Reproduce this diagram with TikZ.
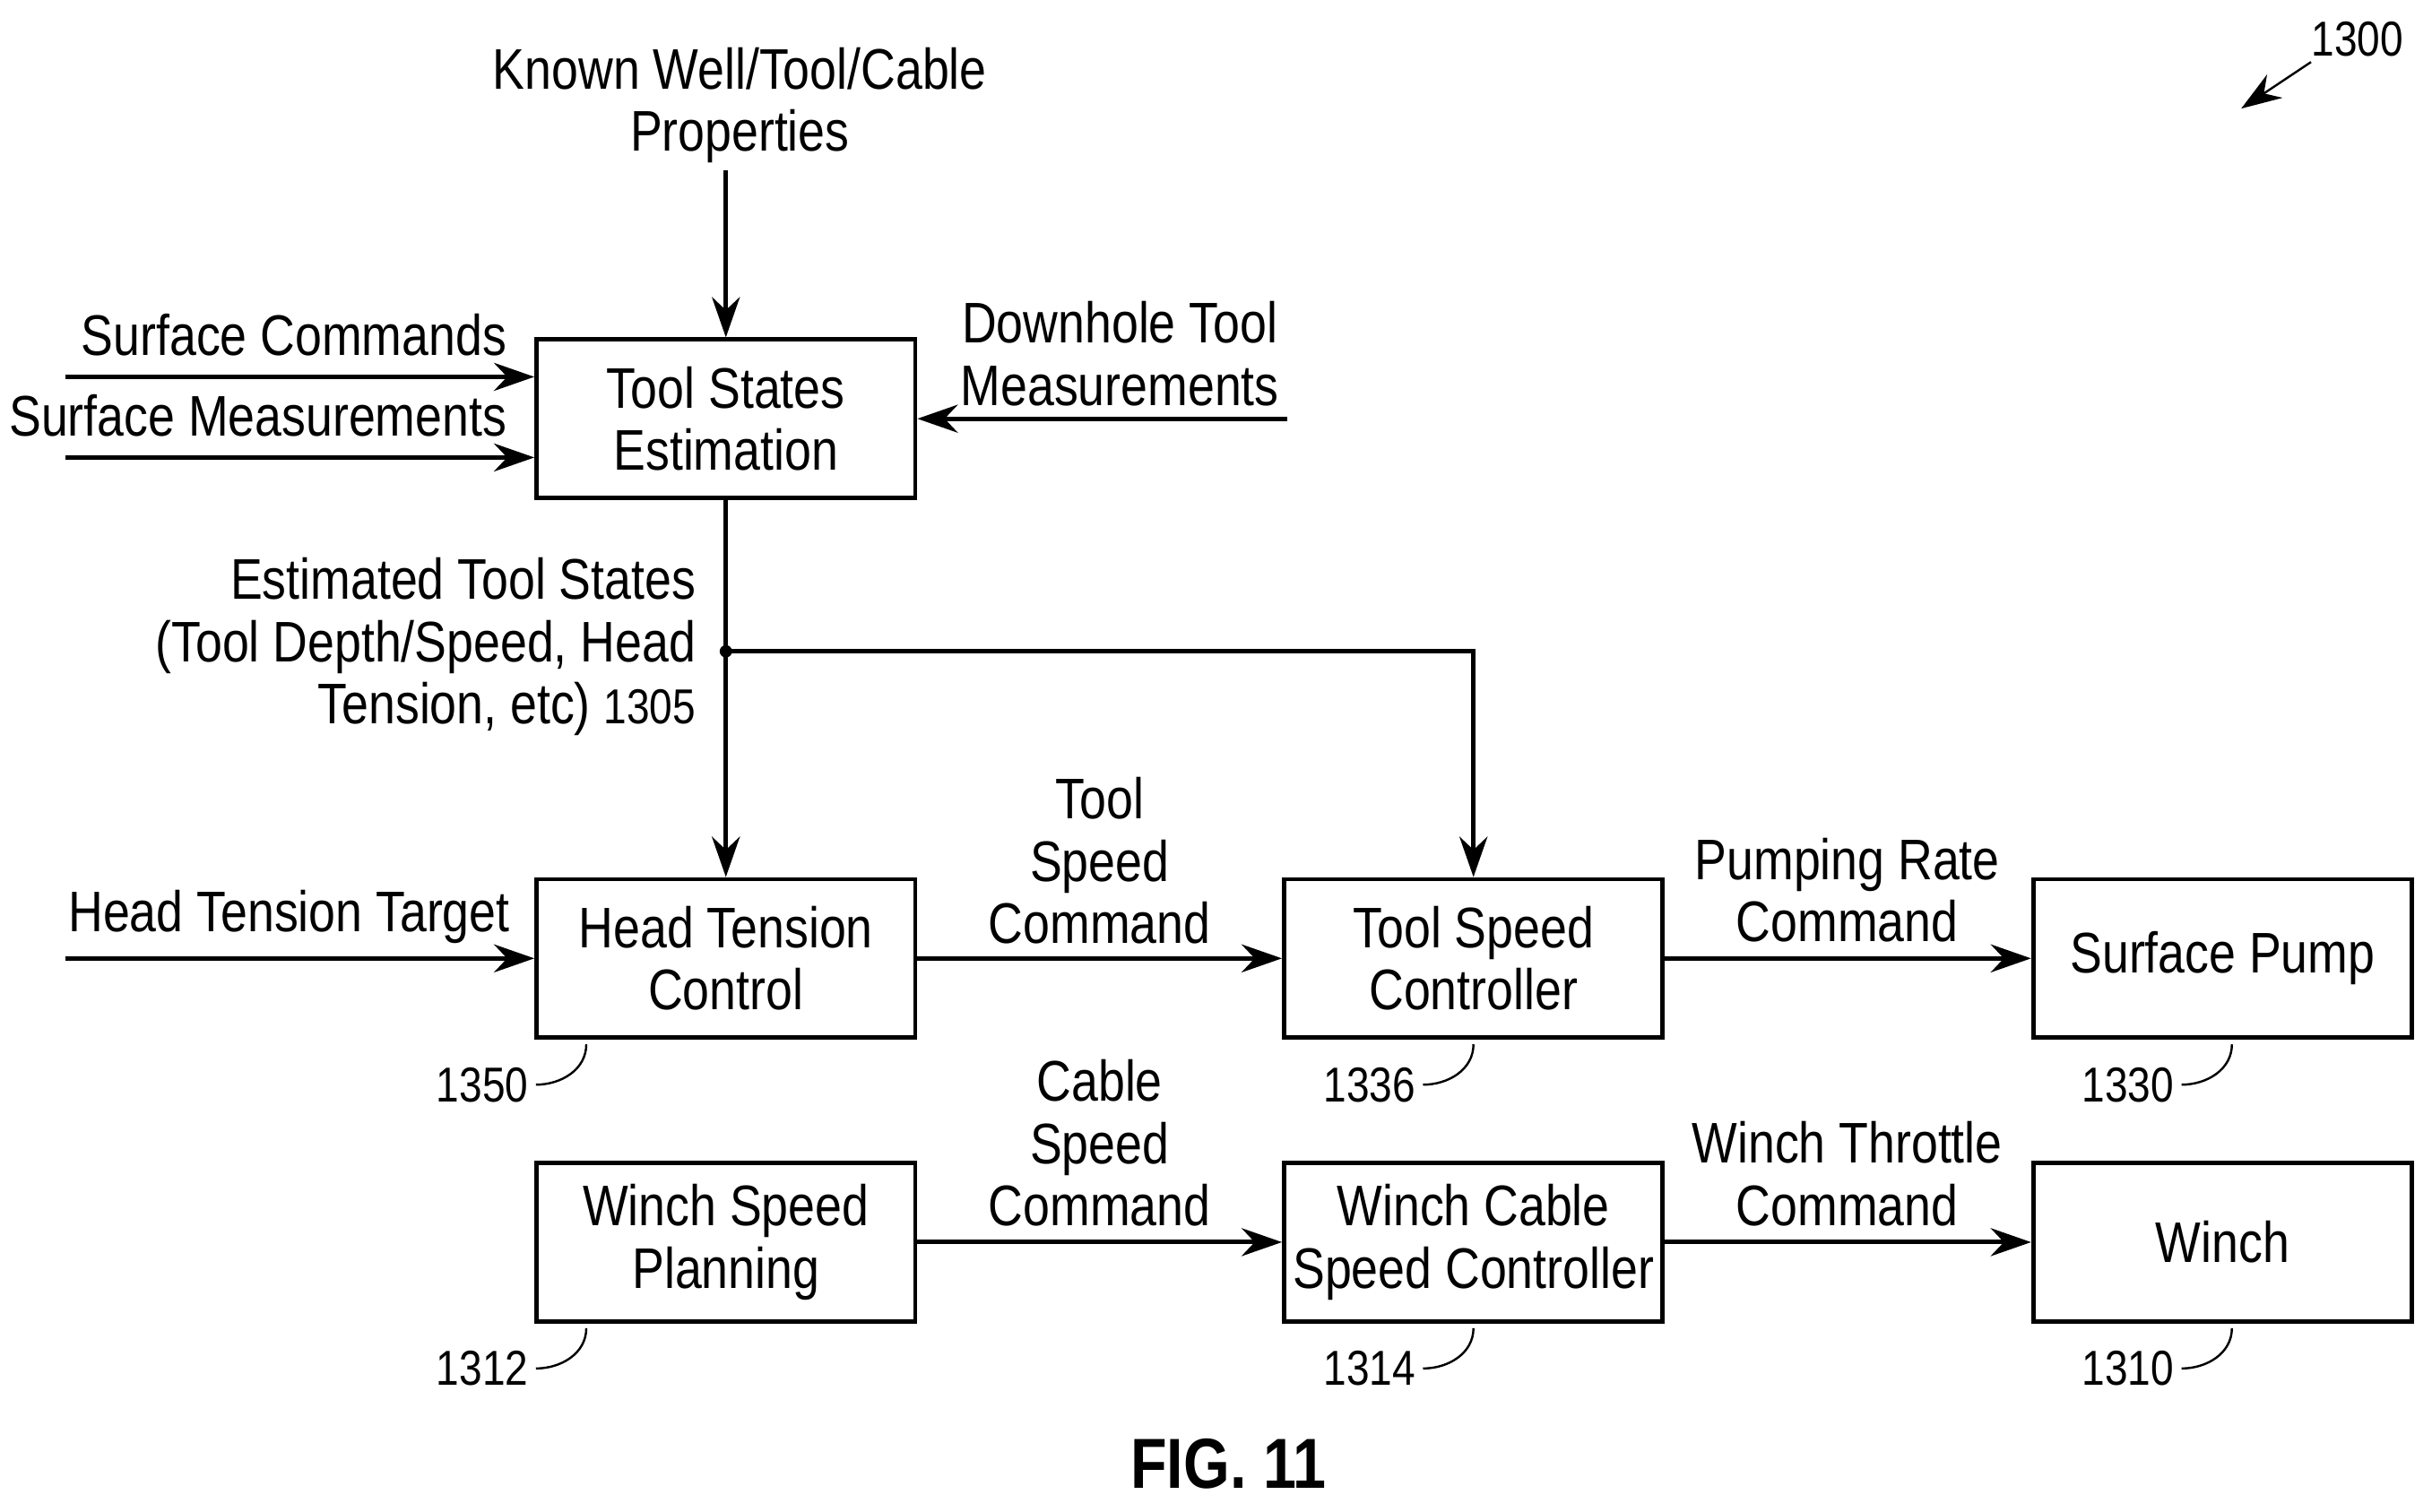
\documentclass[tikz,border=0pt]{standalone}
\usepackage{fontspec}
\setmainfont{Liberation Sans}[FakeStretch=0.84]
\usetikzlibrary{arrows.meta,decorations.pathmorphing}

\tikzset{
    blk/.style={draw,thick,minimum width=2.44cm,minimum height=1.02cm,align=center,inner sep=0pt},
    lbl/.style={align=center,inner sep=0pt},
    refnum/.style={inner sep=1pt,font=\fontsize{9}{10}\selectfont},
    >={Stealth[length=2.6mm,width=1.8mm]},
    every node/.append style={font=\fontsize{10.5}{11.4}\selectfont}
}

\begin{document}
\begin{tikzpicture}[x=0.01cm,y=-0.01cm,thick]
\useasboundingbox (0,0) rectangle (1568,975);

% blocks
\node[blk] (tse) at (468,270) {Tool States\\Estimation};
\node[blk] (htc) at (468,618) {Head Tension\\Control};
\node[blk] (tsc) at (950,618) {Tool Speed\\Controller};
\node[blk] (pump) at (1433,618) {Surface Pump};
\node[blk] (wsp) at (468,801) {Winch Speed\\Planning};
\node[blk] (wcsc) at (950,801) {Winch Cable\\Speed Controller};
\node[blk] (winch) at (1433,801) {Winch};

% free ends
\coordinate (kin) at (468,110);
\coordinate (scin) at (42,243);
\coordinate (smin) at (42,295);
\coordinate (dhin) at (830,270);
\coordinate (htin) at (42,618);
\coordinate (jn) at (468,420);
\coordinate (jr) at (950,420);

% inputs
\node[lbl] (klbl) at (477,68) {Known Well/Tool/Cable\\Properties};
\node[lbl,anchor=east] (sclbl) at (328,216) {Surface Commands};
\node[lbl,anchor=east] (smlbl) at (328,268) {Surface Measurements};
\node[lbl] (dhlbl) at (722,228) {Downhole Tool\\Measurements};
\node[lbl,anchor=east] (htlbl) at (330,591) {Head Tension Target};
\draw[->] (kin) -- (tse.north);
\draw[->] (scin) -- (scin -| tse.west);
\draw[->] (smin) -- (smin -| tse.west);
\draw[->] (dhin) -- (tse.east);
\draw[->] (htin) -- (htc.west);

% estimated states
\node[lbl,align=right,anchor=east] (estlbl) at (450,417) {Estimated Tool States\\(Tool Depth/Speed, Head\\Tension, etc) {\fontsize{9}{10}\selectfont 1305}};
\draw (tse.south) -- (jn);
\fill (jn) circle (4);
\draw[->] (jn) -- (htc.north);
\draw[->] (jn) -- (jr) -- (tsc.north);

% chains
\draw[->] (htc) -- (tsc);
\draw[->] (tsc) -- (pump);
\draw[->] (wsp) -- (wcsc);
\draw[->] (wcsc) -- (winch);
\node[lbl] (tscmd) at (709,555) {Tool\\Speed\\Command};
\node[lbl] (prcmd) at (1191,574) {Pumping Rate\\Command};
\node[lbl] (cscmd) at (709,737) {Cable\\Speed\\Command};
\node[lbl] (wtcmd) at (1191,757) {Winch Throttle\\Command};

% reference numbers
\foreach \nm/\num/\rx in {htc/1350/311,tsc/1336/883,pump/1330/1372,wsp/1312/311,wcsc/1314/883,winch/1310/1372}{
    \node[refnum] (r\num) at ([yshift=-0.29cm]\rx,0 |- \nm.south) {\num};
    \draw[thin] (r\num.east) to[out=0,in=-90] ([yshift=-0.03cm]\rx+67,0 |- \nm.south);
}
\node[refnum] (r1300) at (1520,25) {1300};
\draw[thin,->,decorate,decoration={snake,amplitude=1.2,segment length=14,post length=8}] (1490,40) -- (1445,70);

\node[font=\bfseries\fontsize{13}{15}\selectfont] (fig) at (792,944) {FIG. 11};
\end{tikzpicture}
\end{document}
